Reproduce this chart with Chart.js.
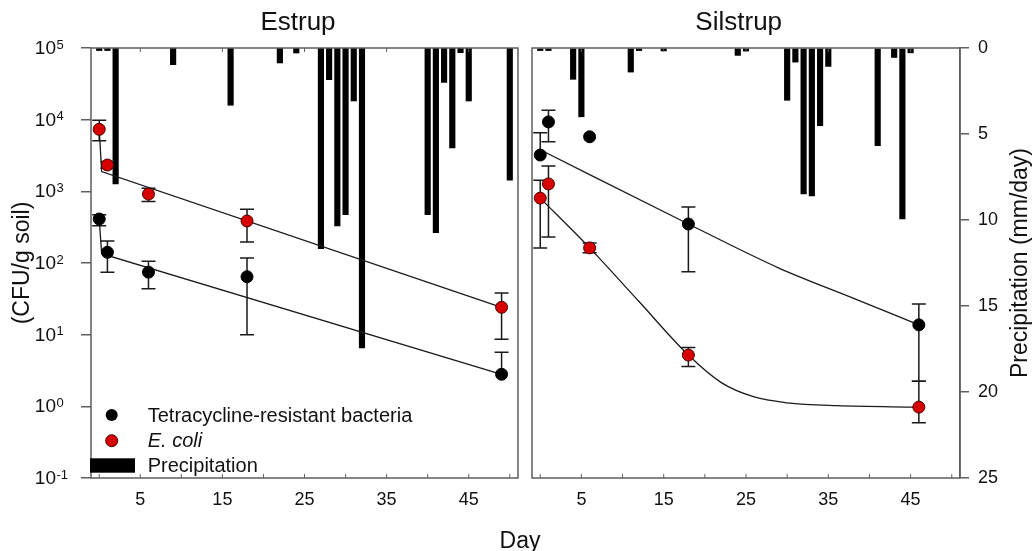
<!DOCTYPE html>
<html>
<head>
<meta charset="utf-8">
<script src="https://cdn.jsdelivr.net/npm/chart.js@4.4.1/dist/chart.umd.min.js"></script>
<style>
  html, body { margin: 0; padding: 0; background: #fff; }
  #wrap { position: relative; width: 1035px; height: 551px; overflow: hidden; }
  #estrup { position: absolute; left: 0; top: 0; }
  #silstrup { position: absolute; left: 525px; top: 0; }
  #day { position: absolute; left: 470px; top: 527px; width: 100px; text-align: center;
         font: 23px "Liberation Sans", Arial, sans-serif; line-height: 26px; color: #111; }
</style>
</head>
<body>
<div id="wrap">
  <canvas id="estrup" width="525" height="551"></canvas>
  <canvas id="silstrup" width="510" height="551"></canvas>
  <div id="day">Day</div>
</div>
<script>
/* Survival of tetracycline-resistant bacteria and E. coli in soil,
   with daily precipitation drawn as bars hanging from the top */

const dayTicks = [0, 5, 10, 15, 20, 25, 30, 35, 40, 45, 50];
const dayLabelTicks = [5, 15, 25, 35, 45];
const decadeTicks = [0.1, 1, 10, 100, 1000, 10000, 100000];
const decadeExps = ['-1', '0', '1', '2', '3', '4', '5'];
const precipTicks = [0, 5, 10, 15, 20, 25];
const legendLabels = ['Tetracycline-resistant bacteria', 'E. coli', 'Precipitation'];

// Estrup
const estrupDays = [0, 1, 6, 18, 49];
const estrupTet = [411, 141, 74.5, 64.3, 2.8];
const estrupTetLo = [332, 74.5, 43.8, 10, null];
const estrupTetHi = [472, 203, 106, 117, 5.7];
const estrupEcoli = [7330, 2330, 915, 386, 24.1];
const estrupEcoliLo = [5080, 2100, 720, 196, 8.6];
const estrupEcoliHi = [9840, 2600, 1100, 561, 38];
const estrupTetFitDays = [0, 0.3, 49];
const estrupTetFit = [411, 135, 2.8];
const estrupEcoliFitDays = [0, 0.3, 49];
const estrupEcoliFit = [7330, 1885, 24.1];
const estrupRainDays = [0, 1, 2, 9, 16, 22, 24, 27, 28, 29, 30, 31, 32, 40, 41, 42, 43, 44, 45, 50];
const estrupRain = [0.15, 0.15, 7.9, 0.97, 3.33, 0.87, 0.29, 11.67, 1.84, 10.35, 9.69, 3.08, 17.43, 9.69, 10.74, 2.0, 5.81, 0.27, 3.08, 7.69];

// Silstrup
const silDays = [0, 1, 6, 18, 46];
const silTet = [3210, 9310, 5770, 350, 13.7];
const silTetLo = [null, 4920, null, 75.5, 2.24];
const silTetHi = [6560, 13550, null, 603, 26.8];
const silEcoli = [804, 1270, 162.5, 5.19, 0.975];
const silEcoliLo = [162, 231, 139, 3.61, 0.59];
const silEcoliHi = [1430, 2260, 190, 6.64, 2.24];
const silTetFitDays = [0, 18, 29, 38, 46];
const silTetFit = [3800, 350, 85, 32.4, 13.7];
const silEcoliFitDays = [0, 6, 12, 18, 22, 26, 30, 36, 46];
const silEcoliFit = [804, 162.5, 29, 5.19, 2.14, 1.35, 1.12, 1.02, 0.975];
const silRainDays = [0, 1, 4, 5, 11, 12, 15, 24, 25, 30, 31, 32, 33, 34, 35, 41, 43, 44, 45];
const silRain = [0.15, 0.15, 1.82, 4.0, 1.4, 0.15, 0.17, 0.43, 0.18, 3.04, 0.82, 8.48, 8.6, 4.52, 1.07, 5.68, 0.55, 9.93, 0.28];

const FONT = '"Liberation Sans", Arial, sans-serif';
const TEXT = '#111';
const FRAME = '#5e5e5e';
const RED = '#d60000';
const RED_EDGE = '#4a0000';
const LINE = '#1a1a1a';
const DOT = 6;

const xy = (xs, ys) => xs.map((x, i) => ({ x: x, y: ys[i] }));

const panelDecor = {
    id: 'panelDecor',
    // error bars go under the markers of their own series
    beforeDatasetDraw(chart, args) {
        const ds = chart.data.datasets[args.index];
        if (!ds.errLo) return;
        const { ctx } = chart;
        const x = chart.scales.x, y = chart.scales.y;
        ctx.save();
        ctx.strokeStyle = LINE;
        ctx.lineWidth = 1.5;
        ds.data.forEach((p, i) => {
            const lo = ds.errLo[i], hi = ds.errHi[i];
            if (lo == null && hi == null) return;
            const px = x.getPixelForValue(p.x);
            const yLo = y.getPixelForValue(lo == null ? p.y : lo);
            const yHi = y.getPixelForValue(hi == null ? p.y : hi);
            ctx.beginPath();
            ctx.moveTo(px, yLo);
            ctx.lineTo(px, yHi);
            if (lo != null) { ctx.moveTo(px - 7, yLo); ctx.lineTo(px + 7, yLo); }
            if (hi != null) { ctx.moveTo(px - 7, yHi); ctx.lineTo(px + 7, yHi); }
            ctx.stroke();
        });
        ctx.restore();
    },
    afterDraw(chart, args, opts) {
        const { ctx, chartArea: a } = chart;
        const x = chart.scales.x, y = chart.scales.y;
        ctx.save();

        // frame + inward day ticks
        ctx.strokeStyle = FRAME;
        ctx.lineWidth = 1.5;
        ctx.strokeRect(a.left, a.top, a.width, a.height);
        ctx.lineWidth = 1;
        ctx.beginPath();
        dayTicks.forEach(v => {
            const px = x.getPixelForValue(v);
            ctx.moveTo(px, a.bottom);
            ctx.lineTo(px, a.bottom - 4);
        });
        dayLabelTicks.forEach(v => {
            const px = x.getPixelForValue(v);
            ctx.moveTo(px, a.top);
            ctx.lineTo(px, a.top + 4);
        });
        ctx.stroke();

        ctx.fillStyle = TEXT;

        // 10^n labels with superscripts
        if (opts.decadeLabels) {
            decadeTicks.forEach((v, i) => {
                const py = y.getPixelForValue(v);
                ctx.font = '19px ' + FONT;
                ctx.textAlign = 'right';
                ctx.textBaseline = 'alphabetic';
                ctx.fillText('10', 56, py + 6);
                ctx.font = '13px ' + FONT;
                ctx.textAlign = 'left';
                ctx.fillText(decadeExps[i], 56.5, py + 0.5);
            });
        }

        // panel title
        ctx.font = '26px ' + FONT;
        ctx.textAlign = 'center';
        ctx.textBaseline = 'alphabetic';
        ctx.fillText(opts.title, opts.titleX, 29.5);

        // rotated axis title
        ctx.save();
        ctx.translate(opts.yTitleX, 263);
        ctx.rotate(-Math.PI / 2);
        ctx.font = '23px ' + FONT;
        ctx.textAlign = 'center';
        ctx.textBaseline = 'middle';
        ctx.fillText(opts.yTitle, 0, 0);
        ctx.restore();

        // legend
        if (opts.legend) {
            ctx.lineWidth = 1;
            ctx.beginPath();
            ctx.arc(111.7, 415, DOT, 0, Math.PI * 2);
            ctx.fillStyle = '#000';
            ctx.fill();
            ctx.beginPath();
            ctx.arc(111.7, 440.7, DOT, 0, Math.PI * 2);
            ctx.fillStyle = RED;
            ctx.fill();
            ctx.strokeStyle = RED_EDGE;
            ctx.stroke();
            ctx.fillStyle = '#000';
            ctx.fillRect(90, 458.3, 45, 14.4);

            ctx.fillStyle = TEXT;
            ctx.textAlign = 'left';
            ctx.font = '20px ' + FONT;
            ctx.fillText(legendLabels[0], 147.7, 421.7);
            ctx.font = 'italic 20px ' + FONT;
            ctx.fillText(legendLabels[1], 147.7, 446.7);
            ctx.font = '20px ' + FONT;
            ctx.fillText(legendLabels[2], 147.7, 471.7);
        }
        ctx.restore();
    }
};

function panelConfig(p) {
    const interp = p.smooth ? 'monotone' : 'default';
    return {
        type: 'bar',
        data: {
            datasets: [
                {
                    type: 'line', data: xy(p.days, p.ecoli), errLo: p.ecoliLo, errHi: p.ecoliHi,
                    showLine: false, pointRadius: DOT, pointBackgroundColor: RED,
                    pointBorderColor: RED_EDGE, pointBorderWidth: 1, yAxisID: 'y', order: 1
                },
                {
                    type: 'line', data: xy(p.days, p.tet), errLo: p.tetLo, errHi: p.tetHi,
                    showLine: false, pointRadius: DOT, pointBackgroundColor: '#000',
                    pointBorderColor: '#000', pointBorderWidth: 1, yAxisID: 'y', order: 2
                },
                {
                    type: 'line', data: xy(p.ecoliFitDays, p.ecoliFit), borderColor: LINE,
                    borderWidth: 1.3, pointRadius: 0, cubicInterpolationMode: interp,
                    yAxisID: 'y', order: 3
                },
                {
                    type: 'line', data: xy(p.tetFitDays, p.tetFit), borderColor: LINE,
                    borderWidth: 1.3, pointRadius: 0, cubicInterpolationMode: interp,
                    yAxisID: 'y', order: 4
                },
                {
                    type: 'bar', data: xy(p.rainDays, p.rain), yAxisID: 'y2',
                    backgroundColor: '#000', borderWidth: 0, barThickness: 5.5, order: 5
                }
            ]
        },
        options: {
            responsive: false,
            animation: false,
            events: [],
            layout: { padding: p.padding },
            plugins: {
                legend: { display: false },
                tooltip: { enabled: false },
                panelDecor: p.decor
            },
            scales: {
                x: {
                    type: 'linear', min: -1, max: 51, offset: false,
                    afterBuildTicks: s => { s.ticks = dayTicks.map(v => ({ value: v })); },
                    afterFit: s => { s.height = 40; },
                    ticks: {
                        autoSkip: false, maxRotation: 0, padding: 11, color: TEXT,
                        font: { family: FONT, size: 18 },
                        callback: v => dayLabelTicks.includes(v) ? String(v) : ''
                    },
                    grid: { display: false, drawTicks: false, offset: false },
                    border: { display: false }
                },
                y: {
                    type: 'logarithmic', min: 0.1, max: 100000, position: 'left',
                    display: p.showLog,
                    afterBuildTicks: s => { s.ticks = decadeTicks.map(v => ({ value: v })); },
                    afterFit: s => { s.width = p.showLog ? 91 : 0; },
                    ticks: { callback: () => '' },
                    grid: { drawOnChartArea: false, drawTicks: true, tickLength: 10, color: FRAME, lineWidth: 1.5 },
                    border: { display: false }
                },
                y2: {
                    type: 'linear', min: 0, max: 25, reverse: true, position: 'right',
                    display: p.showRain,
                    afterBuildTicks: s => { s.ticks = precipTicks.map(v => ({ value: v })); },
                    afterFit: s => { s.width = p.showRain ? 75 : 0; },
                    ticks: { padding: 9, color: TEXT, font: { family: FONT, size: 18 } },
                    grid: { drawOnChartArea: false, drawTicks: true, tickLength: 9, color: FRAME, lineWidth: 1.5 },
                    border: { display: true, color: FRAME, width: 1.5 }
                }
            }
        },
        plugins: [panelDecor]
    };
}

new Chart(document.getElementById('estrup'), panelConfig({
    days: estrupDays, tet: estrupTet, tetLo: estrupTetLo, tetHi: estrupTetHi,
    ecoli: estrupEcoli, ecoliLo: estrupEcoliLo, ecoliHi: estrupEcoliHi,
    tetFitDays: estrupTetFitDays, tetFit: estrupTetFit,
    ecoliFitDays: estrupEcoliFitDays, ecoliFit: estrupEcoliFit,
    rainDays: estrupRainDays, rain: estrupRain,
    smooth: false, showLog: true, showRain: false,
    padding: { left: 0, right: 5, top: 48, bottom: 33 },
    decor: { title: 'Estrup', titleX: 298, yTitle: '(CFU/g soil)', yTitleX: 22.5, decadeLabels: true, legend: true }
}));

new Chart(document.getElementById('silstrup'), panelConfig({
    days: silDays, tet: silTet, tetLo: silTetLo, tetHi: silTetHi,
    ecoli: silEcoli, ecoliLo: silEcoliLo, ecoliHi: silEcoliHi,
    tetFitDays: silTetFitDays, tetFit: silTetFit,
    ecoliFitDays: silEcoliFitDays, ecoliFit: silEcoliFit,
    rainDays: silRainDays, rain: silRain,
    smooth: true, showLog: false, showRain: true,
    padding: { left: 5, right: 0, top: 48, bottom: 33 },
    decor: { title: 'Silstrup', titleX: 213.7, yTitle: 'Precipitation (mm/day)', yTitleX: 496, decadeLabels: false, legend: false }
}));
</script>
</body>
</html>
